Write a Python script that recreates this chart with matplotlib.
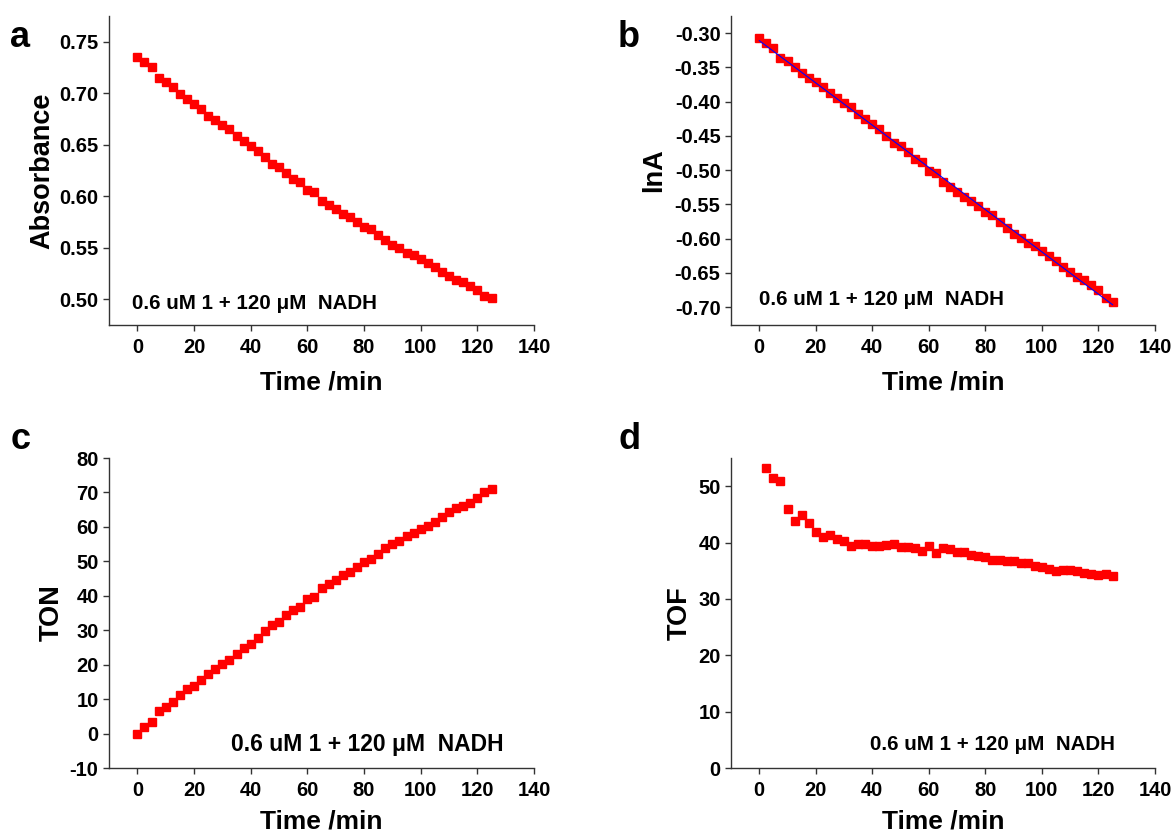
import numpy as np
import matplotlib.pyplot as plt

plt.rcParams['font.family'] = ['Liberation Sans', 'DejaVu Sans']
plt.rcParams['font.weight'] = 'bold'
plt.rcParams['axes.unicode_minus'] = False

# time points (min)
t = [0, 2.5, 5, 7.5, 10, 12.5, 15, 17.5, 20, 22.5, 25, 27.5, 30, 32.5, 35, 37.5,
     40, 42.5, 45, 47.5, 50, 52.5, 55, 57.5, 60, 62.5, 65, 67.5, 70, 72.5, 75,
     77.5, 80, 82.5, 85, 87.5, 90, 92.5, 95, 97.5, 100, 102.5, 105, 107.5, 110,
     112.5, 115, 117.5, 120, 122.5, 125]

absorb = [0.7354, 0.7306, 0.7251, 0.7144, 0.7112, 0.7057, 0.6989, 0.6940, 0.6892,
          0.6843, 0.6782, 0.6740, 0.6691, 0.6649, 0.6585, 0.6533, 0.6488, 0.6439,
          0.6378, 0.6316, 0.6281, 0.6223, 0.6171, 0.6138, 0.6061, 0.6041, 0.5957,
          0.5918, 0.5873, 0.5831, 0.5796, 0.5750, 0.5705, 0.5679, 0.5624, 0.5579,
          0.5527, 0.5495, 0.5453, 0.5427, 0.5388, 0.5349, 0.5317, 0.5268, 0.5226,
          0.5188, 0.5168, 0.5129, 0.5091, 0.5032, 0.5010]

lnA = [-0.307, -0.314, -0.321, -0.336, -0.341, -0.349, -0.358, -0.365, -0.372,
       -0.379, -0.388, -0.395, -0.402, -0.408, -0.418, -0.426, -0.433, -0.440,
       -0.450, -0.460, -0.465, -0.474, -0.483, -0.488, -0.501, -0.504, -0.518,
       -0.525, -0.532, -0.539, -0.545, -0.553, -0.561, -0.566, -0.576, -0.584,
       -0.593, -0.599, -0.606, -0.611, -0.618, -0.626, -0.632, -0.641, -0.649,
       -0.656, -0.660, -0.668, -0.675, -0.687, -0.692]

ton = [0, 1.8, 3.3, 6.5, 7.8, 9.1, 11.2, 12.9, 13.8, 15.5, 17.4, 18.7, 20.2, 21.3,
       23.1, 24.9, 26.1, 27.7, 29.7, 31.5, 32.4, 34.3, 35.9, 36.8, 39.1, 39.6,
       42.4, 43.4, 44.7, 46.1, 47.0, 48.4, 49.7, 50.8, 52.1, 53.8, 55.0, 56.0,
       57.4, 58.1, 59.4, 60.4, 61.3, 62.8, 64.2, 65.4, 66.1, 67.0, 68.3, 70.2, 70.9]

t_tof = t[1:]
tof = [53.3, 51.5, 50.9, 45.9, 43.9, 44.9, 43.5, 41.8, 40.9, 41.4, 40.7, 40.2,
       39.4, 39.7, 39.7, 39.3, 39.3, 39.5, 39.8, 39.2, 39.2, 39.0, 38.5, 39.3,
       38.2, 39.1, 38.9, 38.3, 38.3, 37.8, 37.6, 37.4, 36.9, 36.9, 36.8, 36.8,
       36.4, 36.3, 35.8, 35.7, 35.3, 35.0, 35.2, 35.1, 35.0, 34.6, 34.4, 34.3,
       34.4, 34.1]

note = '0.6 uM 1 + 120 \u03bcM  NADH'

W, H = 1174, 836
fig = plt.figure(figsize=(W / 100, H / 100), dpi=100)


def make_ax(x0, x1, y0, y1):
    return fig.add_axes([x0 / W, 1 - y1 / H, (x1 - x0) / W, (y1 - y0) / H])


def style(ax, ylabel, ylab_x, xlab_y):
    ax.spines['top'].set_visible(False)
    ax.spines['right'].set_visible(False)
    for s in ['left', 'bottom']:
        ax.spines[s].set_linewidth(1.0)
        ax.spines[s].set_color('#333333')
    ax.tick_params(direction='out', length=4.5, width=1.0, labelsize=14.5,
                   color='#333333')
    ax.tick_params(axis='x', pad=5)
    ax.tick_params(axis='y', pad=3)
    ax.set_xlim(-10, 140)
    ax.set_xticks(range(0, 141, 20))
    ax.set_xlabel('Time /min', fontsize=19, fontweight='bold')
    ax.set_ylabel(ylabel, fontsize=19.5, fontweight='bold')
    ax.xaxis.set_label_coords(0.5, xlab_y)
    ax.yaxis.set_label_coords(ylab_x, 0.5)
    for lab in ax.get_xticklabels() + ax.get_yticklabels():
        lab.set_fontweight('bold')


mk = dict(marker='s', ms=5.5, color='#ff0000', ls='none', mec='#ff0000')

# a
ax = make_ax(109, 534, 16, 325)
ax.plot(t, absorb, **mk)
ax.set_ylim(0.475, 0.775)
ya = np.arange(0.50, 0.751, 0.05)
ax.set_yticks(ya)
ax.set_yticklabels(['%.2f' % v for v in ya])
style(ax, 'Absorbance', -0.126, -0.146)
ax.text(0.055, 0.071, note, transform=ax.transAxes, fontsize=14.8, fontweight='bold', va='center')

# b
ax = make_ax(731, 1155, 16, 325)
ax.plot(t, lnA, **mk)
k, b0 = np.polyfit(t, lnA, 1)
ax.plot([t[0], t[-1]], [b0 + k * t[0], b0 + k * t[-1]], color='blue', lw=0.8)
ax.set_ylim(-0.726, -0.275)
yb = np.arange(-0.70, -0.299, 0.05)
ax.set_yticks(yb)
ax.set_yticklabels(['%.2f' % v for v in yb])
style(ax, 'lnA', -0.15, -0.146)
ax.text(0.065, 0.083, note, transform=ax.transAxes, fontsize=14.8, fontweight='bold', va='center')

# c
ax = make_ax(109, 534, 458, 768)
ax.plot(t, ton, **mk)
ax.set_ylim(-10, 80)
ax.set_yticks(range(-10, 81, 10))
style(ax, 'TON', -0.103, -0.133)
ax.text(0.286, 0.0755, note, transform=ax.transAxes, fontsize=16.5, fontweight='bold', va='center')

# d
ax = make_ax(731, 1155, 458, 768)
ax.plot(t_tof, tof, **mk)
ax.set_ylim(0, 55)
ax.set_yticks(range(0, 51, 10))
style(ax, 'TOF', -0.09, -0.133)
ax.text(0.329, 0.0755, note, transform=ax.transAxes, fontsize=14.8, fontweight='bold', va='center')

for lab, x, y in [('a', 10, 47), ('b', 618, 47), ('c', 11, 449), ('d', 618, 449)]:
    fig.text(x / W, 1 - y / H, lab, fontsize=26, fontweight='bold', va='baseline')

fig.savefig('out.png', dpi=100)
